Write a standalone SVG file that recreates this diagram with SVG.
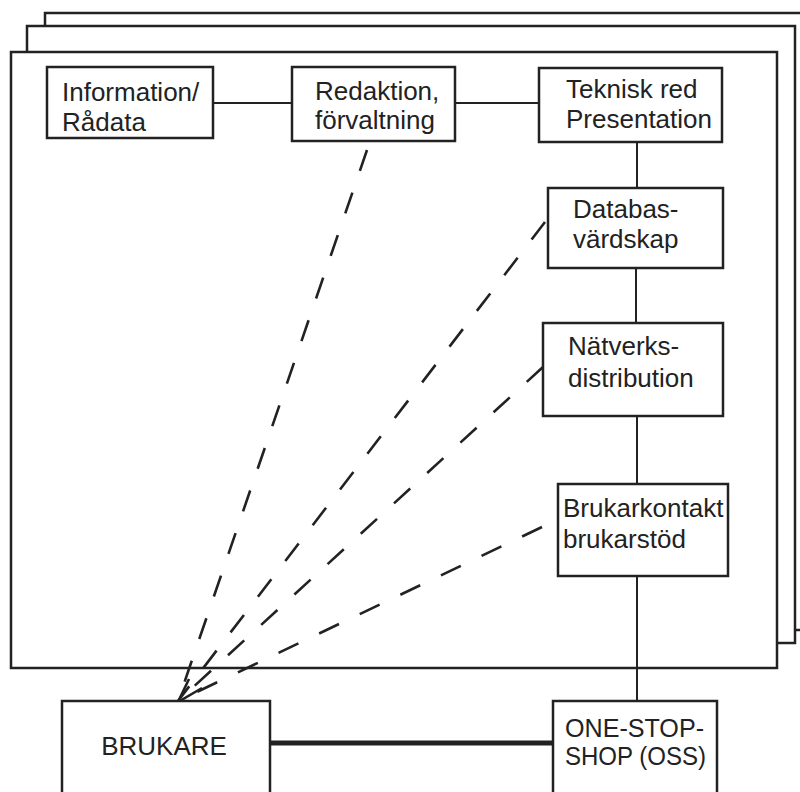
<svg xmlns="http://www.w3.org/2000/svg" width="800" height="792" viewBox="0 0 800 792">
  <style>
    .frame { fill: #fff; stroke: #222; stroke-width: 2.5; }
    .box { fill: #fff; stroke: #222; stroke-width: 2.5; }
    .lbl { font-family: "Liberation Sans", Arial, sans-serif; font-size: 26px; fill: #222; }
    .solid { stroke: #222; stroke-width: 2; fill: none; }
    .thick { stroke: #222; stroke-width: 5; fill: none; }
    .dash { stroke: #222; stroke-width: 2.6; fill: none; stroke-dasharray: 22 23; }
    .head { stroke: #222; stroke-width: 2.6; fill: none; }
  </style>
  <rect width="800" height="792" fill="#fff"/>

  <!-- stacked sheets behind the main frame -->
  <g id="sheets">
    <rect class="frame" x="45" y="13" width="780" height="617"/>
    <rect class="frame" x="27" y="26" width="768" height="617"/>
    <rect class="frame" x="11" y="52" width="766" height="616"/>
  </g>

  <g id="connectors">
    <line class="solid" x1="213" y1="103" x2="292" y2="103"/>
    <line class="solid" x1="455" y1="103" x2="539" y2="103"/>
    <line class="solid" x1="637" y1="142" x2="637" y2="188"/>
    <line class="solid" x1="636" y1="268" x2="636" y2="323"/>
    <line class="solid" x1="637" y1="416" x2="637" y2="484"/>
    <line class="solid" x1="637" y1="576" x2="637" y2="701"/>
    <line class="thick" x1="270" y1="743" x2="553" y2="743"/>
    <line class="dash" x1="367" y1="150" x2="178" y2="701"/>
    <line class="dash" x1="545" y1="222" x2="178" y2="701"/>
    <line class="dash" x1="543" y1="367" x2="178" y2="701"/>
    <line class="dash" x1="542" y1="527" x2="178" y2="701"/>
    <path class="head" d="M189,679 L178,702 L202,688"/>
  </g>

  <g id="information">
    <rect class="box" x="47" y="67" width="166" height="71"/>
    <text class="lbl" x="62" y="101">Information/</text>
    <text class="lbl" x="62" y="131">Rådata</text>
  </g>

  <g id="redaktion">
    <rect class="box" x="292" y="67" width="163" height="74"/>
    <text class="lbl" x="315" y="100">Redaktion,</text>
    <text class="lbl" x="315" y="129">förvaltning</text>
  </g>

  <g id="teknisk">
    <rect class="box" x="539" y="68" width="183" height="74"/>
    <text class="lbl" x="566" y="98">Teknisk red</text>
    <text class="lbl" x="566" y="128">Presentation</text>
  </g>

  <g id="databas">
    <rect class="box" x="548" y="188" width="175" height="80"/>
    <text class="lbl" x="573" y="218">Databas-</text>
    <text class="lbl" x="573" y="248">värdskap</text>
  </g>

  <g id="natverk">
    <rect class="box" x="543" y="323" width="180" height="93"/>
    <text class="lbl" x="568" y="355">Nätverks-</text>
    <text class="lbl" x="568" y="387">distribution</text>
  </g>

  <g id="brukarkontakt">
    <rect class="box" x="558" y="484" width="170" height="92"/>
    <text class="lbl" x="563" y="517">Brukarkontakt</text>
    <text class="lbl" x="563" y="548">brukarstöd</text>
  </g>

  <g id="brukare">
    <rect class="box" x="62" y="701" width="208" height="110"/>
    <text class="lbl" x="164" y="755" text-anchor="middle">BRUKARE</text>
  </g>

  <g id="oss">
    <rect class="box" x="553" y="701" width="164" height="110"/>
    <text class="lbl" x="565" y="737" textLength="139" lengthAdjust="spacingAndGlyphs">ONE-STOP-</text>
    <text class="lbl" x="565" y="765" textLength="141" lengthAdjust="spacingAndGlyphs">SHOP (OSS)</text>
  </g>
</svg>
